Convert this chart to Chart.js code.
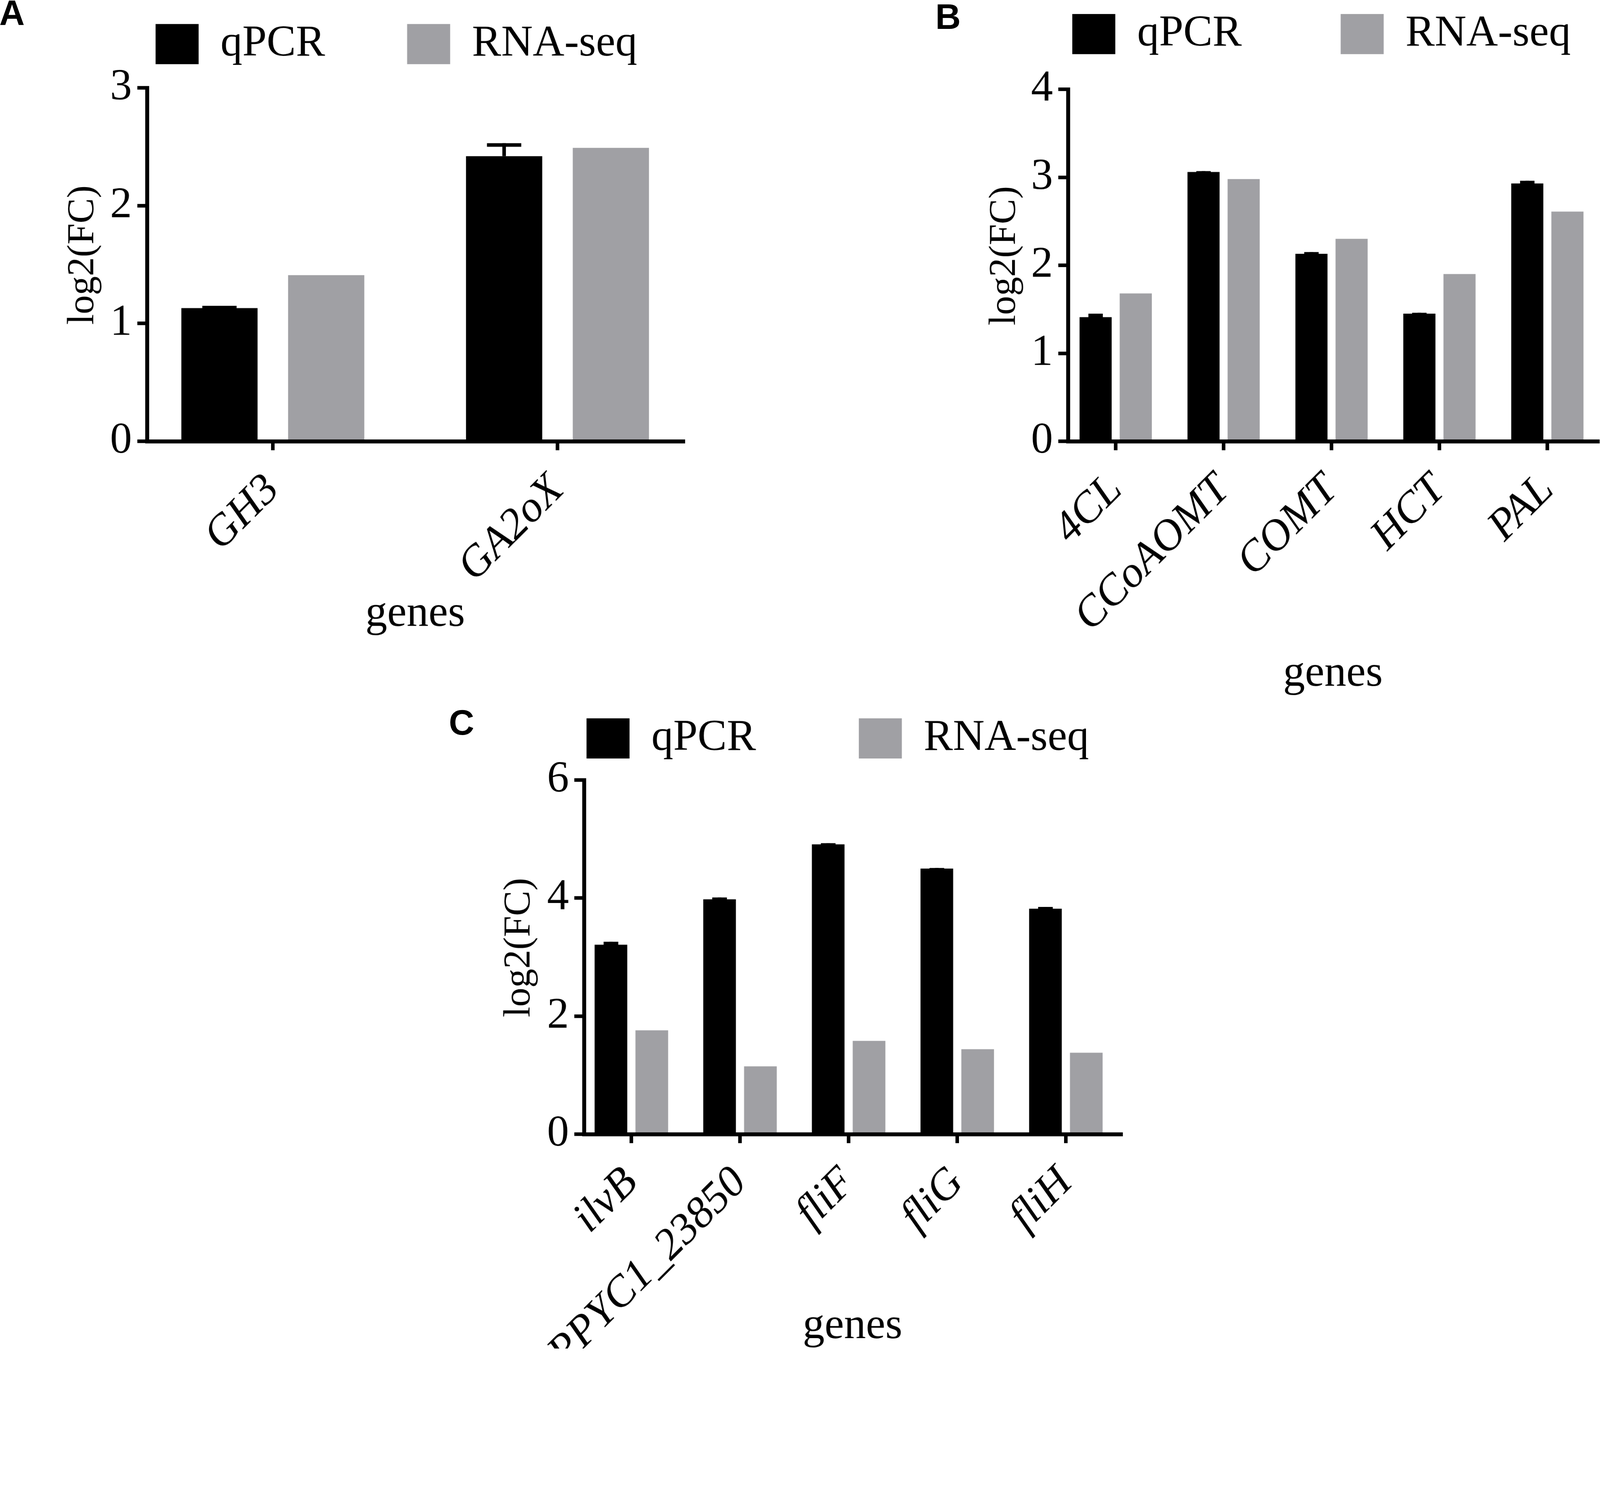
<!DOCTYPE html>
<html>
<head>
<meta charset="utf-8">
<title>qPCR vs RNA-seq</title>
<script src="https://cdn.jsdelivr.net/npm/chart.js@4.4.1/dist/chart.umd.min.js"></script>
<style>
  html, body { margin: 0; padding: 0; background: #fff; }
  ::-webkit-scrollbar { display: none; }
  #page { width: 4463px; height: 3820px; position: absolute; left: 0; top: 0; transform-origin: 0 0; overflow: hidden; }
  canvas { position: absolute; }
  .tag { position: absolute; font: bold 98px 'Liberation Sans', Arial, sans-serif; line-height: 1; color: #000; }
</style>
</head>
<body>
<div id="page">
  <canvas id="chartA" width="2150" height="1850" style="left:0px;top:0px"></canvas>
  <canvas id="chartB" width="2013" height="2000" style="left:2450px;top:0px"></canvas>
  <canvas id="chartC" width="2250" height="1970" style="left:1100px;top:1850px"></canvas>
  <div class="tag" style="left:-2px;top:-13px">A</div>
  <div class="tag" style="left:2609px;top:-2px">B</div>
  <div class="tag" style="left:1252px;top:1966px">C</div>
</div>

<script>
'use strict';

// Panel A
const genesA = ['GH3', 'GA2oX'];
const qpcrA = [1.13, 2.42];
const qpcrErrA = [0.02, 0.11];
const rnaA = [1.41, 2.49];

// Panel B
const genesB = ['4CL', 'CCoAOMT', 'COMT', 'HCT', 'PAL'];
const qpcrB = [1.41, 3.06, 2.13, 1.45, 2.93];
const qpcrErrB = [0.04, 0.01, 0.02, 0.01, 0.03];
const rnaB = [1.68, 2.98, 2.30, 1.90, 2.61];

// Panel C
const genesC = ['ilvB', 'PPYC1_23850', 'fliF', 'fliG', 'fliH'];
const qpcrC = [3.21, 3.98, 4.91, 4.50, 3.82];
const qpcrErrC = [0.05, 0.03, 0.02, 0.01, 0.03];
const rnaC = [1.76, 1.15, 1.58, 1.44, 1.38];

// y axis ranges
const yMaxA = 3, yStepA = 1;
const yMaxB = 4, yStepB = 1;
const yMaxC = 6, yStepC = 2;

const SERIF = "'Liberation Serif', 'Times New Roman', serif";
const GREY = '#a0a0a4';
// en space in front lifts the centred axis title a little, as in the figure
const Y_TITLE = '\u2002log2(FC)';

// the layout below is in picture pixels (4463 wide); fit it to the window
const page = document.getElementById('page');
const fit = window.innerWidth / 4463;
page.style.transform = 'scale(' + fit + ')';
document.body.style.height = Math.ceil(3820 * fit) + 'px';

// moves the legend so the first box sits at a given canvas point
const legendPlacer = {
  id: 'legendPlacer',
  afterLayout(chart, args, opts) {
    const lg = chart.legend;
    if (!lg || opts.x === undefined) return;
    const lab = lg.options.labels;
    const pad = lab.padding;
    const boxOff = Math.max((lab.font.size - lab.boxHeight) / 2, 0);
    const dx = opts.x - pad - lg.left;
    const dy = opts.y - pad - boxOff - lg.top;
    lg.left += dx; lg.right += dx;
    lg.top += dy; lg.bottom += dy;
  }
};

// upper error bars on the qPCR series
const errorBars = {
  id: 'errorBars',
  afterDatasetsDraw(chart, args, opts) {
    const errs = opts.values;
    if (!errs) return;
    const meta = chart.getDatasetMeta(0);
    const pts = chart.data.datasets[0].data;
    const y = chart.scales.y;
    const ctx = chart.ctx;
    ctx.save();
    ctx.fillStyle = '#000';
    meta.data.forEach((bar, i) => {
      const yTop = y.getPixelForValue(pts[i].y + errs[i]);
      const yBar = y.getPixelForValue(pts[i].y);
      const lw = 10;
      const capW = bar.width * 0.45;
      ctx.fillRect(bar.x - lw / 2, yTop, lw, yBar - yTop);
      ctx.fillRect(bar.x - capW / 2, yTop, capW, lw);
    });
    ctx.restore();
  }
};

function makePanel(id, p) {
  const ctx = document.getElementById(id).getContext('2d');
  const toPts = (arr) => arr.map((v, i) => ({ x: i, y: v }));
  return new Chart(ctx, {
    type: 'bar',
    data: {
      datasets: [{
        label: 'qPCR',
        data: toPts(p.qpcr),
        backgroundColor: '#000',
        borderWidth: 0,
        categoryPercentage: p.cat,
        barPercentage: p.bar
      }, {
        label: 'RNA-seq',
        data: toPts(p.rna),
        backgroundColor: GREY,
        borderWidth: 0,
        categoryPercentage: p.cat,
        barPercentage: p.bar
      }]
    },
    options: {
      responsive: false,
      animation: false,
      devicePixelRatio: 1,
      layout: { padding: p.pad },
      plugins: {
        legend: {
          align: 'start',
          labels: {
            boxWidth: 120,
            boxHeight: 112,
            padding: p.legendGap,
            color: '#000',
            font: { family: SERIF, size: 122 }
          }
        },
        tooltip: { enabled: false },
        legendPlacer: { x: p.legendX, y: p.legendY },
        errorBars: { values: p.err }
      },
      scales: {
        x: {
          type: 'linear',
          min: p.xMin,
          max: p.xMax,
          offset: false,
          grid: { offset: false, drawOnChartArea: false, color: '#000', lineWidth: 10, tickLength: 25 },
          border: { color: '#000', width: 11 },
          ticks: {
            stepSize: 1,
            includeBounds: false,
            color: '#000',
            minRotation: 45,
            maxRotation: 45,
            padding: 40,
            font: { family: SERIF, size: 122, style: 'italic' },
            callback: (v) => (p.labels[v] !== undefined ? p.labels[v] : '')
          },
          title: {
            display: true,
            text: 'genes',
            color: '#000',
            padding: 0,
            font: { family: SERIF, size: 122, lineHeight: 1 }
          },
          afterFit: (s) => { s.height = p.xH; }
        },
        y: {
          min: 0,
          max: p.yMax,
          grid: { drawOnChartArea: false, color: '#000', lineWidth: 10, tickLength: 27 },
          border: { color: '#000', width: 11 },
          ticks: {
            stepSize: p.yStep,
            color: '#000',
            padding: 15,
            font: { family: SERIF, size: 122 }
          },
          title: {
            display: true,
            text: Y_TITLE,
            color: '#000',
            padding: { top: p.yTitlePad, bottom: 0 },
            font: { family: SERIF, size: 106, lineHeight: 1 }
          },
          afterFit: (s) => { s.width = p.yW; }
        }
      }
    },
    plugins: [legendPlacer, errorBars]
  });
}

makePanel('chartA', {
  labels: genesA, qpcr: qpcrA, rna: rnaA, err: qpcrErrA,
  yMax: yMaxA, yStep: yStepA,
  xMin: -0.442, xMax: 1.442,
  cat: 0.75, bar: 0.714,
  pad: { left: 0, right: 244, top: -116, bottom: 75 },
  yW: 410, xH: 544, yTitlePad: 179,
  legendGap: 229, legendX: 434, legendY: 67
});

makePanel('chartB', {
  labels: genesB, qpcr: qpcrB, rna: rnaB, err: qpcrErrB,
  yMax: yMaxB, yStep: yStepB,
  xMin: -0.442, xMax: 4.468,
  cat: 0.744, bar: 0.80,
  pad: { left: 0, right: 6, top: -159, bottom: 58 },
  yW: 529, xH: 711, yTitlePad: 300,
  legendGap: 276, legendX: 541, legendY: 39
});

makePanel('chartC', {
  labels: genesC, qpcr: qpcrC, rna: rnaC, err: qpcrErrC,
  yMax: yMaxC, yStep: yStepC,
  xMin: -0.436, xMax: 4.508,
  cat: 0.752, bar: 0.80,
  pad: { left: 0, right: 223, top: -93, bottom: 58 },
  yW: 529, xH: 598, yTitlePad: 296,
  legendGap: 287, legendX: 536, legendY: 154
});
</script>
</body>
</html>
